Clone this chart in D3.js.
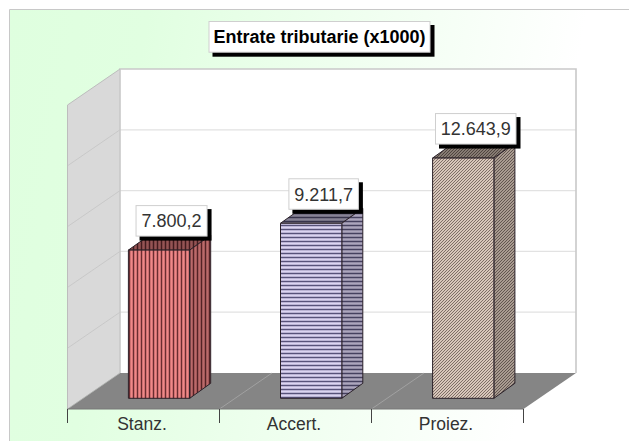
<!DOCTYPE html>
<html><head><meta charset="utf-8">
<script src="https://cdn.jsdelivr.net/npm/d3@7"></script>
<style>html,body{margin:0;padding:0;background:#fff}svg{display:block}text{font-family:"Liberation Sans",Arial,sans-serif}</style>
</head><body><svg id="c" width="629" height="441"></svg>
<script>
const chartTitle = "Entrate tributarie (x1000)";
const categories = ["Stanz.", "Accert.", "Proiez."];
const values = [7800.2, 9211.7, 12643.9];
const axisMax = 16000;
const gridTicks = [0, 3200, 6400, 9600, 12800, 16000];
const faceFills = ["#f08888", "#dcd4f2", "#d8c6ba"];
const stripeColors = ["#6a2c30", "#58527a", "#74645c"];

const W = 629, H = 441;
const svg = d3.select("#c");
const defs = svg.append("defs");

const bg = defs.append("linearGradient").attr("id","bg").attr("x1",0).attr("x2",1).attr("y1",0).attr("y2",0.12);
bg.append("stop").attr("offset","0%").attr("stop-color","#dfffdf");
bg.append("stop").attr("offset","22%").attr("stop-color","#e1ffe1");
bg.append("stop").attr("offset","92%").attr("stop-color","#ffffff");

// 3D frame
const left = 67.5, right = 523.5, bottom = 409, top3d = 105, dx = 52.5, dy = -36;
const x = d3.scaleBand().domain(categories).range([left, right]);
const y = d3.scaleLinear().domain([0, axisMax]).range([bottom, top3d]);
const barW = 61.3, barDx = 21, barDy = -15, barFrontBase = 398.3;
const yBar = v => barFrontBase - (y(0) - y(v));
const barX = c => x(c) + 60.9 + (categories.indexOf(c) * 0.1);

// hatch patterns
function hatch(id, size, fill, stroke, draw, shade){
  const p = defs.append("pattern").attr("id",id).attr("patternUnits","userSpaceOnUse").attr("width",size).attr("height",size);
  p.append("rect").attr("width",size).attr("height",size).attr("fill",fill);
  draw(p.append("g").attr("stroke",stroke).attr("fill","none"));
  if(shade) p.append("rect").attr("width",size).attr("height",size).attr("fill","#000").attr("opacity",shade);
}
const drawers = [
  g=>g.append("line").attr("x1",1.5).attr("x2",1.5).attr("y1",0).attr("y2",4).attr("stroke-width",1.5),
  g=>g.append("line").attr("y1",1.5).attr("y2",1.5).attr("x1",0).attr("x2",4).attr("stroke-width",1.5),
  g=>{g.append("path").attr("d","M-1,1L1,-1M-1,4L4,-1M2,4L4,2").attr("stroke-width",0.9);}
];
const periods = [4,4,3];
categories.forEach((c,i)=>{
  hatch("f"+i,periods[i],faceFills[i],stripeColors[i],drawers[i],0);
  hatch("s"+i,periods[i],faceFills[i],stripeColors[i],drawers[i],0.22);
  hatch("t"+i,periods[i],faceFills[i],stripeColors[i],drawers[i],0.38);
});

// chart background + border
svg.append("rect").attr("x",10).attr("y",10).attr("width",W-10).attr("height",H-10).attr("fill","url(#bg)");
svg.append("path").attr("d",`M9.5,${H}V9.5H${W}`).attr("fill","none").attr("stroke","#c8c8c8").attr("stroke-width",1);

const pt = (a,b)=>a+","+b;
// back wall
svg.append("rect").attr("x",left+dx).attr("y",top3d+dy).attr("width",right-left).attr("height",bottom-top3d).attr("fill","#fff");
// left wall
svg.append("polygon").attr("points",[pt(left,top3d),pt(left+dx,top3d+dy),pt(left+dx,bottom+dy),pt(left,bottom)].join(" ")).attr("fill","#d9d9d9");
// gridlines
const inner = gridTicks.slice(1,-1);
svg.append("g").selectAll("line.back").data(inner).join("line")
  .attr("x1",left+dx).attr("x2",right+dx).attr("y1",d=>y(d)+dy).attr("y2",d=>y(d)+dy)
  .attr("stroke","#e2e2e2").attr("stroke-width",1.2);
svg.append("g").selectAll("line.wall").data(inner).join("line")
  .attr("x1",left).attr("x2",left+dx).attr("y1",d=>y(d)).attr("y2",d=>y(d)+dy)
  .attr("stroke","#c4c4c4").attr("stroke-width",0.8);
// floor
svg.append("polygon").attr("points",[pt(left,bottom),pt(left+dx,bottom+dy),pt(right+dx,bottom+dy),pt(right,bottom)].join(" ")).attr("fill","#858585");
// floor dividers
svg.append("g").selectAll("line").data(categories.slice(1)).join("line")
  .attr("x1",d=>x(d)).attr("x2",d=>x(d)+dx).attr("y1",bottom).attr("y2",bottom+dy)
  .attr("stroke","#a8a8a8").attr("stroke-width",0.8);
// frame lines
svg.append("path").attr("d",`M${left+dx},${bottom+dy}V${top3d+dy}H${right+dx}V${bottom+dy}`).attr("fill","none").attr("stroke","#c9c9c9").attr("stroke-width",1.6);
svg.append("path").attr("d",`M${left},${bottom}V${top3d}L${left+dx},${top3d+dy}`).attr("fill","none").attr("stroke","#bdbdbd").attr("stroke-width",1);
svg.append("line").attr("x1",left).attr("x2",left+dx).attr("y1",bottom).attr("y2",bottom+dy).attr("stroke","#b0b0b0").attr("stroke-width",0.8);

// x axis
const axisG = svg.append("g");
axisG.append("line").attr("x1",left).attr("x2",right).attr("y1",bottom).attr("y2",bottom).attr("stroke","#777");
axisG.selectAll("line.t").data(categories.concat(["end"])).join("line").attr("class","t")
  .attr("x1",(d,i)=>i<3?x(d):right).attr("x2",(d,i)=>i<3?x(d):right).attr("y1",bottom).attr("y2",bottom+14)
  .attr("stroke","#444").attr("stroke-width",1);
axisG.selectAll("text").data(categories).join("text")
  .attr("x",d=>x(d)+x.bandwidth()/2-1.5).attr("y",430).attr("text-anchor","middle")
  .attr("font-size",17.5).attr("fill","#333").text(d=>d);

// bars
const bars = svg.append("g").selectAll("g").data(categories).join("g");
function applyStroke(s){return s.attr("stroke","#2a2028").attr("stroke-width",1).attr("stroke-linejoin","round");}
applyStroke(bars.append("polygon").attr("fill",(d,i)=>`url(#t${i})`)
  .attr("points",(d,i)=>{const a=barX(d),t=yBar(values[i]);return [pt(a,t),pt(a+barW,t),pt(a+barW+barDx,t+barDy),pt(a+barDx,t+barDy)].join(" ");}));
applyStroke(bars.append("polygon").attr("fill",(d,i)=>`url(#s${i})`)
  .attr("points",(d,i)=>{const a=barX(d)+barW,t=yBar(values[i]);return [pt(a,t),pt(a+barDx,t+barDy),pt(a+barDx,barFrontBase+barDy),pt(a,barFrontBase)].join(" ");}));
applyStroke(bars.append("rect").attr("fill",(d,i)=>`url(#f${i})`)
  .attr("x",d=>barX(d)).attr("width",barW).attr("y",(d,i)=>yBar(values[i])).attr("height",(d,i)=>barFrontBase-yBar(values[i])));

// labels
function box(cx, bottomY, w, h, txt, size, weight){
  const x0 = cx - w/2, y0 = bottomY - h;
  const g = svg.append("g");
  g.append("rect").attr("x",x0+4).attr("y",y0+4).attr("width",w).attr("height",h).attr("fill","#000");
  g.append("rect").attr("x",x0+.5).attr("y",y0+.5).attr("width",w-1).attr("height",h-1).attr("fill","#fff").attr("stroke","#cfcfcf");
  g.append("text").attr("x",cx).attr("y",y0+h/2+size*0.36).attr("text-anchor","middle")
    .attr("font-size",size).attr("font-weight",weight).attr("fill",weight==="bold"?"#000":"#333").text(txt);
}
const fmt = d3.formatLocale({decimal:",",thousands:".",grouping:[3],currency:["",""]}).format(",.1f");
const labelW = [72,70.5,81.5];
categories.forEach((c,i)=>{
  box(barX(c)+barW/2+12.5, yBar(values[i])-13.5, labelW[i], 31.5, fmt(values[i]), 18, "normal");
});
box(319.5, 52.7, 222, 31.7, chartTitle, 18, "bold");
</script></body></html>
